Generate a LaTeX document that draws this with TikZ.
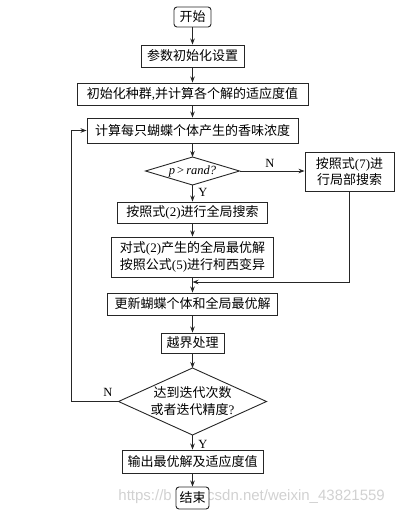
\documentclass[tikz,border=0pt]{standalone}
\usepackage{fontspec}
\setmainfont{Liberation Serif}
\newfontfamily\cjk{Noto Sans CJK SC}
\newfontfamily\wmfont{Liberation Sans}
\usetikzlibrary{arrows.meta}
\newcommand{\lt}[1]{{\rmfamily #1}}
\begin{document}
\begin{tikzpicture}[x=1pt,y=-1pt,
  box/.style={draw=black!85, line width=0.9pt, fill=white, inner sep=0pt, align=center,
    font=\cjk\fontsize{13}{16.5}\selectfont},
  dtext/.style={inner sep=0pt, align=center, font=\cjk\fontsize{13}{17}\selectfont},
  dline/.style={draw=black!85, line width=0.9pt},
  arr/.style={draw=black!85, line width=0.8pt, -{Stealth[length=6pt,width=4.5pt]}},
  lbl/.style={inner sep=0pt, font=\fontsize{12.5}{14}\selectfont},
  wm/.style={inner sep=0pt, text=black!18, font=\wmfont\fontsize{15}{17}\selectfont}]
\useasboundingbox (0,0) rectangle (404,516);

% watermark (parts visible around the end box)
\node[wm, anchor=east] (wmA) at (172,497) {https://b};
\node[wm, anchor=west] (wmB) at (207,497) {csdn.net/weixin\_43821559};

\node[box, rounded corners=3pt, minimum width=37pt, minimum height=20pt] (start) at (192.5,17) {开始};
\node[box, minimum width=103pt, minimum height=22pt] (n1) at (192.5,56) {参数初始化设置};
\node[box, minimum width=231pt, minimum height=22pt] (n2) at (192.5,94) {初始化种群\lt{,}并计算各个解的适应度值};
\node[box, minimum width=211pt, minimum height=25pt] (n3) at (192.5,130.5) {计算每只蝴蝶个体产生的香味浓度};

% diamond 1
\coordinate (d1t) at (192.5,157);
\coordinate (d1b) at (192.5,185);
\coordinate (d1l) at (145.5,171);
\coordinate (d1r) at (239.5,171);
\draw[dline] (d1t) -- (d1r) -- (d1b) -- (d1l) -- cycle;
\node[dtext, font=\fontsize{12.5}{14}\selectfont] (d1) at (192.5,171.5) {\textit{p}\,>\,\textit{rand?}};

\node[box, minimum width=89pt, minimum height=39pt] (r) at (349.5,171.5) {按照式\lt{(7)}进\\行局部搜索};
\node[box, minimum width=150pt, minimum height=21pt] (n4) at (192.5,212.5) {按照式\lt{(2)}进行全局搜索};
\node[box, minimum width=162pt, minimum height=40pt] (n5) at (192.5,257) {对式\lt{(2)}产生的全局最优解\\按照公式\lt{(5)}进行柯西变异};
\coordinate (j) at (192.5,282);
\node[box, minimum width=170pt, minimum height=22pt] (n6) at (192.5,304) {更新蝴蝶个体和全局最优解};
\node[box, minimum width=63pt, minimum height=20pt] (n7) at (192.5,343) {越界处理};

% diamond 2
\coordinate (d2t) at (192.5,368);
\coordinate (d2b) at (192.5,435);
\coordinate (d2l) at (118.5,401.5);
\coordinate (d2r) at (266.5,401.5);
\draw[dline] (d2t) -- (d2r) -- (d2b) -- (d2l) -- cycle;
\node[dtext] (d2) at (192.5,401.5) {达到迭代次数\\或者迭代精度\lt{?}};

\node[box, minimum width=141pt, minimum height=23pt] (n8) at (192.5,461.5) {输出最优解及适应度值};
\node[box, rounded corners=3pt, minimum width=33pt, minimum height=22pt] (end) at (192.5,498) {结束};

\coordinate (loop) at (71,401.5);

% connectors
\draw[arr] (start.south) -- (n1.north);
\draw[arr] (n1.south) -- (n2.north);
\draw[arr] (n2.south) -- (n3.north);
\draw[arr] (n3.south) -- (d1t);
\draw[arr] (d1r) -- (d1r -| r.west);
\node[lbl] (lN1) at (270,163) {N};
\draw[arr] (d1b) -- (n4.north);
\node[lbl] (lY1) at (203,192) {Y};
\draw[arr] (n4.south) -- (n5.north);
\draw[arr] (r.south) |- (j);
\draw[arr] (n5.south) -- (n6.north);
\draw[arr] (n6.south) -- (n7.north);
\draw[arr] (n7.south) -- (d2t);
\draw[arr] (d2b) -- (n8.north);
\node[lbl] (lY2) at (203,444) {Y};
\draw[arr] (n8.south) -- (end.north);
\draw[arr] (d2l) -- (loop) |- (n3.west);
\node[lbl] (lN2) at (108,392) {N};
\end{tikzpicture}
\end{document}
